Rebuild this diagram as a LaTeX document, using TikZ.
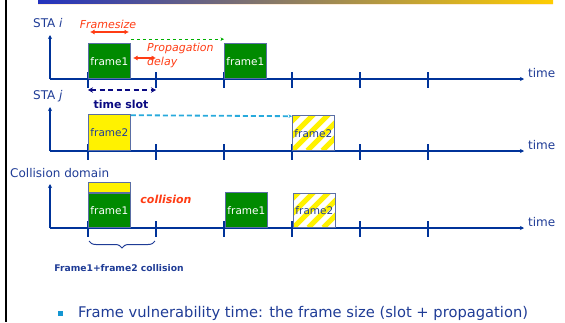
\documentclass[tikz,border=0pt]{standalone}
\usepackage{fontspec}
\setmainfont{DejaVu Sans}
\usetikzlibrary{arrows.meta,decorations.pathreplacing}
\definecolor{axisblue}{RGB}{0,51,153}
\definecolor{labelblue}{RGB}{31,60,150}
\definecolor{framegreen}{RGB}{0,138,0}
\definecolor{framered}{RGB}{255,60,20}
\definecolor{slotnavy}{RGB}{10,10,130}
\definecolor{dashcyan}{RGB}{40,170,220}
\definecolor{dashgreen}{RGB}{0,175,0}
\definecolor{edgeblue}{RGB}{90,110,165}
\definecolor{barblue}{RGB}{35,50,190}
\definecolor{barmid}{RGB}{185,145,150}
\definecolor{baryellow}{RGB}{255,205,0}
\definecolor{bulletblue}{RGB}{20,150,210}
\begin{document}
\begin{tikzpicture}[x=1pt,y=-1pt,
lbl/.style={font=\fontsize{12}{14}\selectfont,text=labelblue,inner sep=0},
axis/.style={axisblue,line width=2.8pt},
tick/.style={axisblue,line width=2.4pt},
frm/.style={draw=edgeblue,line width=0.8pt,minimum width=42pt,inner sep=0,
  font=\fontsize{10.5}{12}\selectfont,anchor=south west},
greenfrm/.style={frm,fill=framegreen,text=white,minimum height=35pt},
yellowfrm/.style={frm,fill=yellow,text=labelblue,minimum height=36pt},
hatchfrm/.style={frm,fill=white,text=labelblue,minimum height=35pt,
  path picture={\foreach \k in {-45,-30,...,45}
    \draw[yellow,line width=5pt] ([xshift=\k*1pt]path picture bounding box.south west) -- ++(60pt,60pt);}},
redtxt/.style={text=framered,font=\fontsize{11}{14}\selectfont\itshape,inner sep=0,align=left},
redarr/.style={framered,line width=1.8pt,{Latex[length=4.5pt,width=5pt]}-{Latex[length=4.5pt,width=5pt]}}
]
\useasboundingbox (0,0) rectangle (565,322);

\shade[left color=barblue,middle color=barmid,right color=baryellow] (38,0) rectangle (553,3.5);
\draw[orange!15,line width=0.8pt] (38,4.4) -- (553,4.4);
\draw[black,line width=2pt] (6,0) -- (6,322);

\foreach \n/\y in {1/79,2/151,3/228} {
\coordinate (o\n) at (50,\y);
\coordinate (e\n) at (524,\y);
\draw[axisblue,line width=1.6pt,-{Stealth[length=4pt,width=4pt]}] (o\n) -- ++(0,-44);
\draw[axis,-{Stealth[length=4pt,width=4pt]}] (o\n) -- (e\n);
\node[lbl,anchor=west] (time\n) at (528,\y-6) {time};
\foreach \x in {88,156,...,495} {
\draw[tick] (\x,\y-7) -- (\x,\y+9);
};
};

\node[lbl,anchor=west] (sta1) at (33,23) {STA \textit{i}};
\node[lbl,anchor=west] (sta2) at (33,96) {STA \textit{j}};
\node[lbl,anchor=west] (coll) at (10,173) {Collision domain};

\node[greenfrm] (f1a) at (88,79) {frame1};
\node[greenfrm] (f1b) at (224,79) {frame1};
\node[yellowfrm] (f2a) at (88,151) {frame2};
\node[hatchfrm] (f2b) at (292,151) {frame2};
\node[greenfrm,minimum height=34pt] (c1) at (88,228) {frame1};
\node[frm,fill=yellow,minimum height=10pt] (c2) at (c1.north west) {};
\node[greenfrm] (c3) at (225,228) {frame1};
\node[hatchfrm,minimum height=34pt] (c4) at (293,228) {frame2};

\node[redtxt] (fsize) at (108,24) {Framesize};
\coordinate (fs1) at (90,32);
\coordinate (fs2) at (129,32);
\draw[redarr] (fs1) -- (fs2);

\draw[dashgreen,line width=1.4pt,dash pattern=on 3.5pt off 2.5pt,-{Stealth[length=3.5pt,width=3.5pt]}]
  ([yshift=4pt]f1a.north east) -- ([yshift=4pt]f1b.north west);
\draw[dashcyan,line width=1.8pt,dash pattern=on 5pt off 3pt,-{Stealth[length=3.5pt,width=3.5pt]}]
  ([yshift=-1pt]f2a.north east) -- ([yshift=-1pt]f2b.north west);

\node[redtxt,anchor=north west] (prop) at (147,43) {Propagation\\delay};
\coordinate (pd1) at (133,58);
\coordinate (pd2) at (156,58);
\draw[redarr] (pd1) -- (pd2);

\coordinate (ts1) at (88,90);
\coordinate (ts2) at (156,90);
\draw[slotnavy,line width=2.2pt,dash pattern=on 5pt off 3.5pt,
  {Stealth[length=5pt,width=5.5pt]}-{Stealth[length=5pt,width=5.5pt]}] (ts1) -- (ts2);
\node[text=slotnavy,font=\fontsize{11}{13}\selectfont\bfseries,inner sep=0] (slot) at (121,104) {time slot};

\node[text=framered,font=\fontsize{11}{13}\selectfont\bfseries\itshape,inner sep=0] (colltxt) at (166,199) {collision};

\coordinate (br1) at (89,241);
\coordinate (br2) at (155,241);
\draw[labelblue,line width=1pt,decorate,decoration={brace,mirror,amplitude=7pt}] (br1) -- (br2);
\node[text=labelblue,font=\fontsize{9.2}{11}\selectfont\bfseries,inner sep=0] (both) at (119,268) {Frame1+frame2 collision};

\node[fill=bulletblue,minimum size=5pt,inner sep=0] (bul) at (60,313) {};
\node[text=labelblue,font=\fontsize{14.7}{17}\selectfont,inner sep=0,anchor=west] (note) at (78,313)
  {Frame vulnerability time: the frame size (slot + propagation)};

\end{tikzpicture}
\end{document}
